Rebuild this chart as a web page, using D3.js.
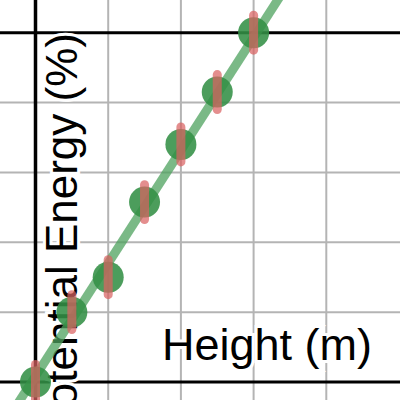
<!DOCTYPE html>
<html>
<head>
  <meta charset="utf-8">
  <script src="https://d3js.org/d3.v7.min.js"></script>
  <style>
    body { margin: 0; background: #fff; }
    .label {
      font-family: "Liberation Sans", Arial, sans-serif;
      font-size: 45px;
      fill: #000;
      stroke: #fff;
      stroke-width: 6px;
      paint-order: stroke;
    }
  </style>
</head>
<body>
  <script type="text/javascript">
    // measured heights (m) and potential energy (%)
    var heights = [0, 0.5, 1, 1.5, 2, 2.5, 3];
    var energy = [0, 20, 30, 51.5, 68, 83, 100];
    var errors = [5, 5, 5, 5, 5, 5, 5];
    // fitted line, two end points
    var fitX = [-0.3, 3.5];
    var fitY = [-8, 114.8];
    var xGrid = [1, 2, 3, 4];
    var yGrid = [20, 40, 60, 80];
    var yRefs = [0, 100];

    var width = 400, height = 400;
    var svg = d3.select("body").append("svg")
      .attr("width", width)
      .attr("height", height);

    var x = d3.scaleLinear().domain([0, 5]).range([35.5, 399]);
    var y = d3.scaleLinear().domain([0, 100]).range([382, 32.7]);

    // grid
    svg.selectAll("line.vgrid").data(xGrid).enter().append("line")
      .attr("x1", function (d) { return x(d); })
      .attr("x2", function (d) { return x(d); })
      .attr("y1", 0).attr("y2", height)
      .attr("stroke", "#b4b4b4").attr("stroke-width", 2);
    svg.selectAll("line.hgrid").data(yGrid).enter().append("line")
      .attr("y1", function (d) { return y(d); })
      .attr("y2", function (d) { return y(d); })
      .attr("x1", 0).attr("x2", width)
      .attr("stroke", "#b4b4b4").attr("stroke-width", 2);

    // axes
    svg.selectAll("line.href").data(yRefs).enter().append("line")
      .attr("y1", function (d) { return y(d); })
      .attr("y2", function (d) { return y(d); })
      .attr("x1", 0).attr("x2", width)
      .attr("stroke", "#000").attr("stroke-width", 3);
    svg.append("line")
      .attr("x1", x(0)).attr("x2", x(0))
      .attr("y1", 0).attr("y2", height)
      .attr("stroke", "#000").attr("stroke-width", 3.5);

    // axis titles
    svg.append("text").attr("class", "label")
      .attr("x", 372).attr("y", 360)
      .attr("text-anchor", "end")
      .text("Height (m)");
    svg.append("text").attr("class", "label")
      .style("font-size", "44px")
      .attr("transform", "translate(77,33) rotate(-90)")
      .attr("text-anchor", "end")
      .text("Potential Energy (%)");

    // fit line
    var fit = fitX.map(function (d, i) { return [d, fitY[i]]; });
    svg.append("path")
      .datum(fit)
      .attr("d", d3.line().x(function (d) { return x(d[0]); }).y(function (d) { return y(d[1]); }))
      .attr("stroke", "#4ea15e").attr("stroke-opacity", 0.75)
      .attr("stroke-width", 9).attr("fill", "none");

    var pts = heights.map(function (h, i) { return { h: h, e: energy[i], err: errors[i] }; });

    svg.selectAll("circle.pt").data(pts).enter().append("circle")
      .attr("cx", function (d) { return x(d.h); })
      .attr("cy", function (d) { return y(d.e); })
      .attr("r", 15.5)
      .attr("fill", "#338f45").attr("fill-opacity", 0.88);

    svg.selectAll("line.err").data(pts).enter().append("line")
      .attr("x1", function (d) { return x(d.h); })
      .attr("x2", function (d) { return x(d.h); })
      .attr("y1", function (d) { return y(d.e - d.err); })
      .attr("y2", function (d) { return y(d.e + d.err); })
      .attr("stroke", "#d96262").attr("stroke-opacity", 0.72)
      .attr("stroke-width", 9).attr("stroke-linecap", "round");
  </script>
</body>
</html>
